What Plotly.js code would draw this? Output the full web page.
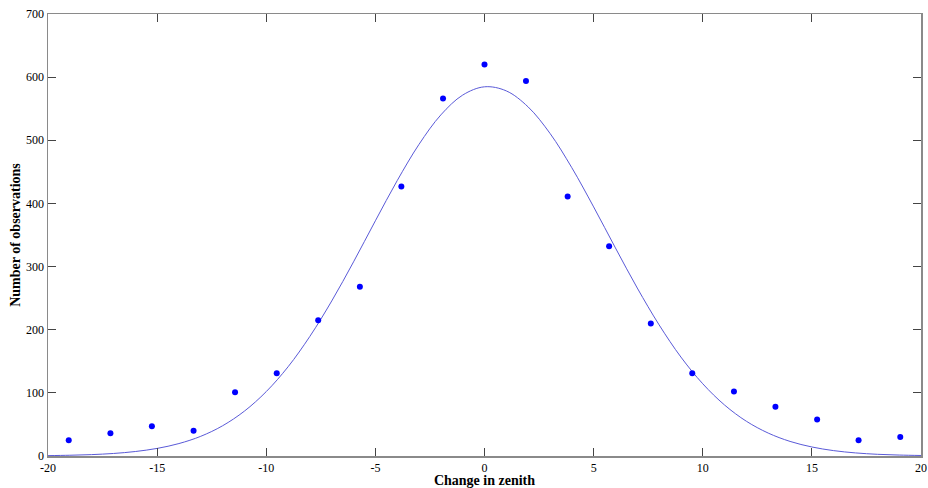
<!DOCTYPE html>
<html>
<head>
<meta charset="utf-8">
<script src="https://cdn.plot.ly/plotly-3.0.1.min.js"></script>
<style>html,body{margin:0;padding:0;background:#fff;}#chart{width:928px;height:488px;}</style>
</head>
<body>
<div id="chart"></div>
<script>
// Observed histogram counts (bin centres)
var obsX = [-19.05, -17.14, -15.24, -13.33, -11.43, -9.52, -7.62, -5.71, -3.81, -1.90,
            0.00, 1.90, 3.81, 5.71, 7.62, 9.52, 11.43, 13.33, 15.24, 17.14, 19.05];
var obsY = [25, 36, 47, 40, 101, 131, 215, 268, 427, 566,
            620, 594, 411, 332, 210, 131, 102, 78, 58, 25, 30];

// Fitted curve
var fitX = [-20, -19, -18, -17, -16, -15, -14, -13, -12, -11, -10, -9, -8, -7, -6, -5, -4, -3, -2, -1,
            0, 1, 2, 3, 4, 5, 6, 7, 8, 9, 10, 11, 12, 13, 14, 15, 16, 17, 18, 19, 20];
var fitY = [0.6, 1.2, 2.2, 4.0, 7.1, 12.0, 19.7, 31.2, 47.9, 71.1, 102.0, 141.3, 189.5, 245.5, 307.5, 372.5, 436.1, 493.6, 540.2, 571.6,
            584.7, 578.2, 552.8, 511.0, 456.6, 394.5, 329.5, 266.0, 207.7, 156.7, 114.4, 80.7, 55.0, 36.3, 23.1, 14.3, 8.5, 4.9, 2.7, 1.5, 0.8];

var xTicks = [-20, -15, -10, -5, 0, 5, 10, 15, 20];
var yTicks = [0, 100, 200, 300, 400, 500, 600, 700];

var traces = [
  {x: fitX, y: fitY, type: 'scatter', mode: 'lines', line: {color: '#5a5ad8', width: 1, shape: 'spline'}, hoverinfo: 'skip'},
  {x: obsX, y: obsY, type: 'scatter', mode: 'markers', marker: {color: '#0000ff', size: 6}}
];

var serif = 'Liberation Serif, Times New Roman, serif';
var axisCommon = {
  showline: true, linecolor: '#8a8a8a', linewidth: 1.5, mirror: 'ticks',
  ticks: 'inside', ticklen: 8, tickcolor: '#444', tickwidth: 1,
  showgrid: false, zeroline: false,
  tickfont: {family: serif, size: 12, color: '#000'}
};

var layout = {
  width: 928, height: 488,
  margin: {l: 48, r: 7, t: 14, b: 32},
  paper_bgcolor: '#fff', plot_bgcolor: '#fff',
  showlegend: false,
  xaxis: Object.assign({}, axisCommon, {
    range: [-20, 20], tickvals: xTicks, ticktext: xTicks.map(String),
    title: {text: 'Change in zenith', standoff: 3,
      font: {family: serif, size: 14, color: '#000', weight: 'bold'}}
  }),
  yaxis: Object.assign({}, axisCommon, {
    range: [0, 700], tickvals: yTicks, ticktext: yTicks.map(String),
    title: {text: 'Number of observations', standoff: 2,
      font: {family: serif, size: 14, color: '#000', weight: 'bold'}}
  })
};

Plotly.newPlot('chart', traces, layout, {displayModeBar: false, staticPlot: true});
</script>
</body>
</html>
